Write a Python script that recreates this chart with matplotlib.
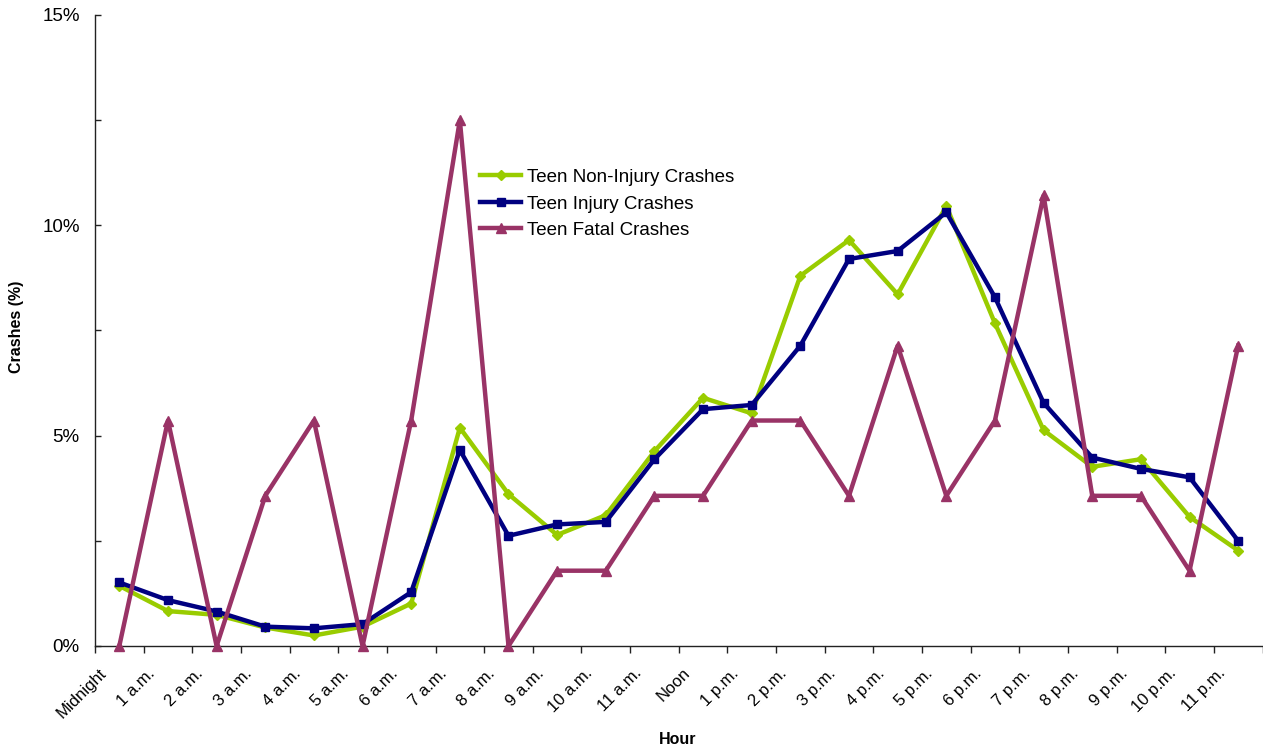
import matplotlib
matplotlib.use("Agg")
import matplotlib.pyplot as plt
from matplotlib.ticker import FixedLocator, FuncFormatter, MultipleLocator
from matplotlib.transforms import ScaledTranslation

plt.rcParams['font.family'] = ['Liberation Sans', 'DejaVu Sans']

hours = ["Midnight", "1 a.m.", "2 a.m.", "3 a.m.", "4 a.m.", "5 a.m.", "6 a.m.",
         "7 a.m.", "8 a.m.", "9 a.m.", "10 a.m.", "11 a.m.", "Noon", "1 p.m.",
         "2 p.m.", "3 p.m.", "4 p.m.", "5 p.m.", "6 p.m.", "7 p.m.", "8 p.m.",
         "9 p.m.", "10 p.m.", "11 p.m."]

non_injury = [1.43, 0.83, 0.74, 0.44, 0.25, 0.46, 1.01, 5.19, 3.61, 2.64, 3.11, 4.63,
              5.90, 5.53, 8.80, 9.65, 8.36, 10.46, 7.67, 5.13, 4.26, 4.44, 3.07, 2.27]
injury = [1.51, 1.09, 0.82, 0.46, 0.42, 0.52, 1.28, 4.66, 2.62, 2.89, 2.95, 4.44,
          5.63, 5.73, 7.14, 9.20, 9.39, 10.31, 8.29, 5.78, 4.48, 4.21, 4.01, 2.50]
fatal = [0.0, 5.36, 0.0, 3.57, 5.36, 0.0, 5.36, 12.50, 0.0, 1.79, 1.79, 3.57,
         3.57, 5.36, 5.36, 3.57, 7.14, 3.57, 5.36, 10.71, 3.57, 3.57, 1.79, 7.14]

W, H = 1263, 750
fig = plt.figure(figsize=(W / 100, H / 100), dpi=100)
ax_l, ax_r, ax_t, ax_b = 95, 1262.5, 15, 646
ax = fig.add_axes([ax_l / W, 1 - ax_b / H, (ax_r - ax_l) / W, (ax_b - ax_t) / H])

x = list(range(len(hours)))
ax.plot(x, non_injury, color="#99CC00", lw=3.2, marker="D", ms=5,
        label="Teen Non-Injury Crashes", zorder=3, clip_on=False)
ax.plot(x, injury, color="#000080", lw=3.2, marker="s", ms=6,
        label="Teen Injury Crashes", zorder=4, clip_on=False)
ax.plot(x, fatal, color="#993366", lw=3.2, marker="^", ms=7,
        label="Teen Fatal Crashes", zorder=5, clip_on=False)

ax.set_xlim(-0.5, len(hours) - 0.5)
ax.set_ylim(0, 15)

ax.spines['top'].set_visible(False)
ax.spines['right'].set_visible(False)
for s in ('left', 'bottom'):
    ax.spines[s].set_linewidth(1.0)
    ax.spines[s].set_color("#222222")

# y axis: labels every 5%, inward tick marks every 2.5%
ax.yaxis.set_major_locator(FixedLocator([0, 5, 10, 15]))
ax.yaxis.set_minor_locator(MultipleLocator(2.5))
ax.yaxis.set_major_formatter(FuncFormatter(lambda v, p: f"{int(v)}%"))
ax.tick_params(axis='y', which='both', direction='in', length=4, width=1,
               labelsize=13.5, pad=11, color="#222222")

# x axis: category labels centred, tick marks at category boundaries
ax.set_xticks(x)
ax.set_xticklabels(hours, rotation=45, ha='right', rotation_mode='anchor')
ax.set_xticks([i - 0.5 for i in range(len(hours) + 1)], minor=True)
ax.tick_params(axis='x', which='major', length=0, labelsize=12, pad=14)
ax.tick_params(axis='x', which='minor', direction='out', length=5, width=1,
               color="#222222")
shift = ScaledTranslation(-21 / 100, 0, fig.dpi_scale_trans)
for lbl in ax.get_xticklabels():
    lbl.set_transform(lbl.get_transform() + shift)

ax.set_ylabel("Crashes (%)", fontsize=11.5, fontweight='bold')
ax.yaxis.set_label_coords((17 - ax_l) / (ax_r - ax_l), (ax_b - 327) / (ax_b - ax_t))
ax.yaxis.label.set_verticalalignment('center')
ax.set_xlabel("Hour", fontsize=11.5, fontweight='bold')
ax.xaxis.set_label_coords((678 - ax_l) / (ax_r - ax_l), (ax_b - 740) / (ax_b - ax_t))
ax.xaxis.label.set_verticalalignment('center')

ax.legend(loc='center left',
          bbox_to_anchor=((480 - ax_l) / (ax_r - ax_l), (ax_b - 204) / (ax_b - ax_t)),
          frameon=False, fontsize=13.5, handlelength=2.2, handletextpad=0.3,
          labelspacing=0.5, borderaxespad=0, borderpad=0)

fig.savefig("out.png", dpi=100)
